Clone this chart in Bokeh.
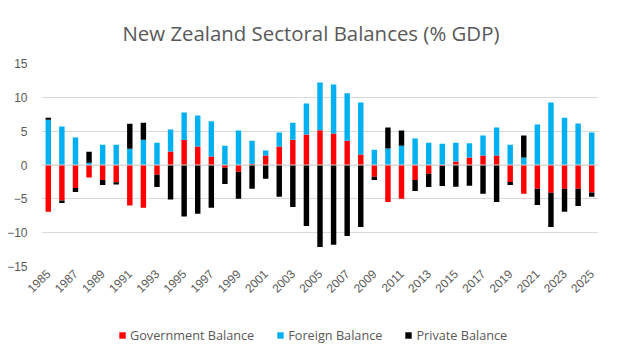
import math
import numpy as np
from bokeh.plotting import figure
from bokeh.layouts import column
from bokeh.models import (ColumnDataSource, Range1d, FixedTicker, Legend, LegendItem, Span)
from bokeh.embed import file_html
from bokeh.resources import INLINE

years = list(range(1985, 2026))
gov = [-6.9, -5.25, -3.4, -1.85, -2.2, -2.55, -6.0, -6.3, -1.45, 2.0,
       3.75, 2.75, 1.25, -0.4, -1.0, 0.2, 1.4, 2.75, 3.75, 4.5,
       5.15, 4.65, 3.6, 1.55, -1.75, -5.45, -5.0, -2.2, -1.3, -0.15,
       0.5, 1.1, 1.4, 1.4, -2.5, -4.25, -3.5, -4.1, -3.5, -3.5, -4.05]
foreign = [6.7, 5.7, 4.05, 0.35, 3.0, 3.0, 2.4, 3.75, 3.3, 3.25,
           4.0, 4.55, 5.2, 2.85, 5.1, 3.4, 0.75, 2.05, 2.5, 4.6,
           7.05, 7.25, 7.0, 7.7, 2.25, 2.45, 2.85, 3.9, 3.3, 3.15,
           2.8, 2.1, 2.95, 4.15, 3.0, 1.1, 6.0, 9.25, 7.0, 6.15, 4.8]
private = [0.3, -0.35, -0.6, 1.6, -0.75, -0.35, 3.7, 2.5, -1.8, -5.1,
           -7.6, -7.2, -6.3, -2.4, -4.0, -3.5, -2.05, -4.7, -6.2, -9.0,
           -12.1, -11.8, -10.5, -9.15, -0.45, 3.1, 2.25, -1.65, -1.95, -2.95,
           -3.2, -3.05, -4.25, -5.45, -0.45, 3.25, -2.4, -5.05, -3.4, -2.55, -0.65]
series_names = ["Government Balance", "Foreign Balance", "Private Balance"]
series_colors = ["#FF0000", "#00B0F0", "#000000"]
x_ticks = list(range(1985, 2026, 2))
y_ticks = [-15, -10, -5, 0, 5, 10, 15]

p = figure(frame_width=557, frame_height=203,
           output_backend="svg", toolbar_location=None,
           x_range=Range1d(1984.5, 2025.5), y_range=Range1d(-15, 15),
           min_border_left=41, min_border_right=14, min_border_top=63, min_border_bottom=45)
p.outline_line_color = None

p.title.text = "New Zealand Sectoral Balances (% GDP)"
p.title.align = "left"
p.title.text_font = "Open Sans"
p.title.text_font_size = "20.4px"
p.title.text_font_style = "normal"
p.title.text_color = "#595959"
p.title.offset = 81
p.title.standoff = 33

pos = np.zeros(len(years))
neg = np.zeros(len(years))
sources = []
for name, vals, color in zip(series_names, [gov, foreign, private], series_colors):
    v = np.array(vals, dtype=float)
    bottom = np.where(v >= 0, pos, neg)
    top = bottom + v
    pos = np.where(v >= 0, top, pos)
    neg = np.where(v < 0, top, neg)
    src = ColumnDataSource(dict(x=years, top=top, bottom=bottom))
    sources.append(src)
    p.vbar(x="x", top="top", bottom="bottom", width=0.4, source=src,
           fill_color=color, line_color=None)

p.add_layout(Span(location=0, dimension="width", line_color="#d9d9d9", line_width=1))

p.xgrid.grid_line_color = None
p.ygrid.grid_line_color = "#d9d9d9"
p.ygrid.grid_line_width = 1

p.yaxis.ticker = FixedTicker(ticks=y_ticks)
p.xaxis.ticker = FixedTicker(ticks=x_ticks)
for ax in [p.xaxis[0], p.yaxis[0]]:
    ax.axis_line_color = None
    ax.major_tick_line_color = None
    ax.minor_tick_line_color = None
    ax.major_tick_out = 0
    ax.major_tick_in = 0
    ax.minor_tick_out = 0
    ax.major_label_text_font = "Liberation Sans"
    ax.major_label_text_font_size = "12px"
    ax.major_label_text_color = "#595959"
p.yaxis.major_label_standoff = 14
p.xaxis.major_label_orientation = math.pi / 4
p.xaxis.major_label_standoff = 5

# legend strip below the chart (its y range lies far from the data, so only the swatches show)
lg = figure(width=612, height=40, output_backend="svg", toolbar_location=None,
            x_axis_type=None, y_axis_type=None,
            x_range=Range1d(1984.5, 2025.5), y_range=Range1d(100, 101),
            min_border_left=0, min_border_right=0, min_border_top=0, min_border_bottom=0)
lg.outline_line_color = None
items = []
for name, color, src in zip(series_names, series_colors, sources):
    r = lg.vbar(x="x", top="top", bottom="bottom", width=0.4, source=src,
                fill_color=color, line_color=None)
    items.append(LegendItem(label=name, renderers=[r]))
legend = Legend(items=items, orientation="horizontal", location=(77, 7),
                glyph_width=8, glyph_height=8, label_standoff=4, spacing=22,
                label_text_font="Open Sans", label_text_font_size="12.7px",
                label_text_color="#595959", border_line_color=None,
                background_fill_alpha=0, padding=0, margin=0)
lg.add_layout(legend, "center")

layout = column(p, lg)
open("out.html", "w").write(file_html(layout, INLINE))
